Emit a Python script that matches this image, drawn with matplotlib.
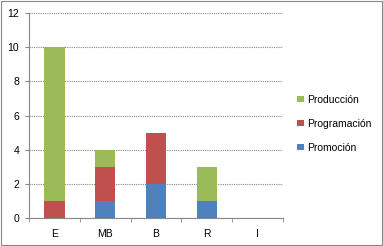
import matplotlib
matplotlib.use('Agg')
import matplotlib.pyplot as plt
import numpy as np

categorias = ['E', 'MB', 'B', 'R', 'I']
promocion = [0, 1, 2, 1, 0]
programacion = [1, 2, 3, 0, 0]
produccion = [9, 1, 0, 2, 0]

plt.rcParams['font.family'] = ['Liberation Sans', 'DejaVu Sans']

fig = plt.figure(figsize=(3.83, 2.46), dpi=100)
ax = fig.add_axes([29/383, 1 - 218/246, (283 - 29)/383, (218 - 13)/246])

x = np.arange(len(categorias))
promo = np.array(promocion)
prog = np.array(programacion)
prod = np.array(produccion)
w = 0.4
b1 = ax.bar(x, promo, w, color='#4F81BD', label='Promoción', zorder=3)
b2 = ax.bar(x, prog, w, bottom=promo, color='#C0504D', label='Programación', zorder=3)
b3 = ax.bar(x, prod, w, bottom=promo + prog, color='#9BBB59', label='Producción', zorder=3)

ax.set_xlim(-0.5, len(categorias) - 0.5)
ax.set_ylim(0, 12)
ax.set_yticks(range(0, 13, 2))
ax.set_xticks(x)
ax.set_xticklabels(categorias)
ax.set_xticks(np.arange(-0.5, len(categorias), 1), minor=True)
ax.tick_params(axis='x', which='major', length=0, labelsize=7.5, pad=8)
ax.tick_params(axis='x', which='minor', length=3, color='#888888', direction='out')
ax.tick_params(axis='y', length=3, labelsize=7.5, color='#888888', pad=4)
ax.yaxis.grid(True, linestyle=(0, (1, 1)), color='#888888', linewidth=0.8, zorder=0)
for s in ['top', 'right']:
    ax.spines[s].set_visible(False)
for s in ['left', 'bottom']:
    ax.spines[s].set_color('#888888')

ax.legend(handles=[b3, b2, b1], loc='center left', bbox_to_anchor=(1.02, 0.46),
          frameon=False, fontsize=7.5, handlelength=0.6, handleheight=0.6,
          handletextpad=0.3, labelspacing=1.35)

fig.patches.append(plt.Rectangle((0.002, 0.004), 0.995, 0.992, transform=fig.transFigure,
                                 fill=False, edgecolor='#888888', linewidth=0.8))

fig.savefig('out.png', dpi=100)
